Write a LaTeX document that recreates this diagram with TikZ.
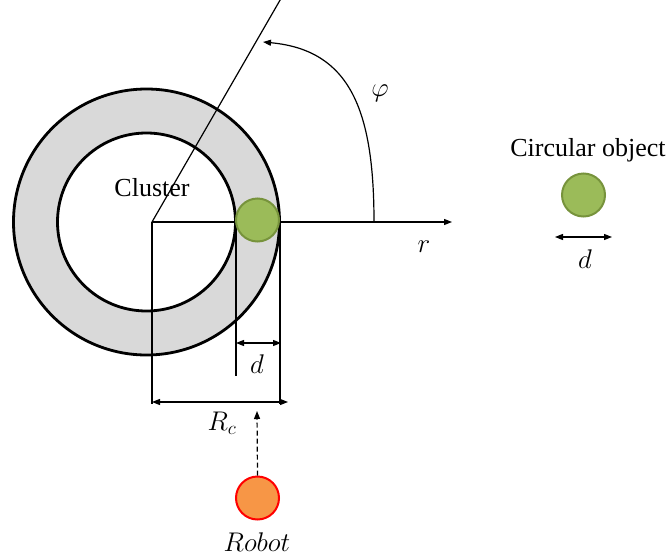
\RequirePackage{fix-cm}
\documentclass[tikz,border=0pt]{standalone}
\usepackage{fontspec}
\setmainfont{Liberation Serif}
\usetikzlibrary{arrows.meta}
\definecolor{ringgray}{HTML}{D9D9D9}
\definecolor{objgreen}{HTML}{9BBB59}
\definecolor{objgreenb}{HTML}{77933C}
\definecolor{robotorange}{HTML}{F79646}
\begin{document}
\begin{tikzpicture}[x=1pt,y=-1pt,
  thinline/.style={line width=1.2pt},
  ringline/.style={line width=2.8pt},
  tipend/.style={-{Triangle[length=8pt,width=6pt]}},
  tipboth/.style={{Triangle[length=8pt,width=6pt]}-{Triangle[length=8pt,width=6pt]}},
  greenobj/.style={circle,minimum size=43pt,inner sep=0pt,fill=objgreen,draw=objgreenb,line width=2pt},
  robotobj/.style={circle,minimum size=43pt,inner sep=0pt,fill=robotorange,draw=red,line width=2pt},
  txt/.style={font=\fontsize{26}{30}\selectfont,inner sep=0pt},
  mtxt/.style={font=\fontsize{27}{32}\selectfont,inner sep=0pt}]
\useasboundingbox (0,0) rectangle (670,560);
% ring
\coordinate (C) at (146.5,222);
\fill[ringgray] (C) circle[radius=133pt];
\fill[white] (C) circle[radius=89pt];
\draw[ringline] (C) circle[radius=133pt];
\draw[ringline] (C) circle[radius=89pt];
% coordinates
\coordinate (O) at (152,222);
\coordinate (rayend) at (283,-5);
\coordinate (axisend) at (452,222);
\coordinate (vO) at (152,404);
\coordinate (vin) at (236,222);
\coordinate (vinb) at (236,376);
\coordinate (vout) at (280,222);
\coordinate (voutb) at (280,404);
\coordinate (dL) at (236,343);
\coordinate (dR) at (281,343);
\coordinate (RcL) at (152,402);
\coordinate (RcR) at (288,402);
\coordinate (arcS) at (374,222);
\coordinate (arcE) at (263,42);
\coordinate (dashend) at (257,411);
\coordinate (d2L) at (555,237);
\coordinate (d2R) at (612,237);
% lines
\draw[thinline] (O) -- (rayend);
\draw[thinline,tipend] (O) -- (axisend);
\draw[thinline] (O) -- (vO);
\draw[thinline] (vin) -- (vinb);
\draw[thinline] (vout) -- (voutb);
\draw[thinline,tipboth] (dL) -- (dR);
\draw[thinline,tipboth] (RcL) -- (RcR);
\draw[thinline,tipend] (arcS) .. controls (374,110) and (350,50) .. (arcE);
% objects
\node[greenobj] (obj) at (257.5,220) {};
\node[greenobj] (obj2) at (583.5,195) {};
\node[robotobj] (robot) at (257.5,498) {};
\draw[thinline,dash pattern=on 5pt off 3pt,tipend] (robot.north) -- (dashend);
\draw[thinline,tipboth] (d2L) -- (d2R);
% labels
\node[txt] (cl) at (152,188) {Cluster};
\node[txt] (co) at (588,150) {Circular object};
\node[mtxt] (phi) at (380,93) {$\varphi$};
\node[mtxt] (rl) at (424,247) {$r$};
\node[mtxt] (dl) at (257,364) {$d$};
\node[mtxt] (rcl) at (222,423) {$R_c$};
\node[mtxt] (rob) at (257,542) {$Robot$};
\node[mtxt] (d2l) at (585,259) {$d$};
\end{tikzpicture}
\end{document}
